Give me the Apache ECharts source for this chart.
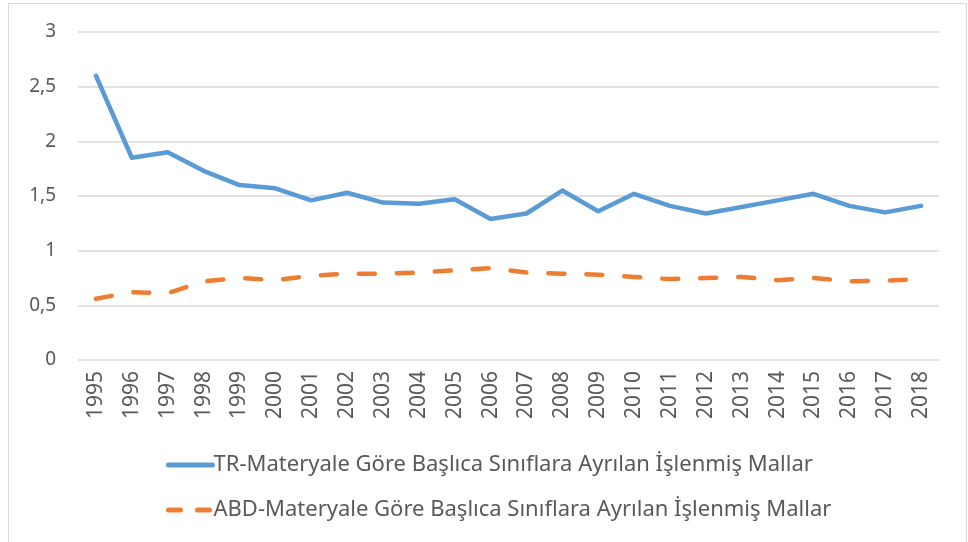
<!DOCTYPE html>
<html>
<head>
<meta charset="utf-8">
<script src="https://cdn.jsdelivr.net/npm/echarts@6/dist/echarts.min.js"></script>
<style>
  html, body { margin: 0; padding: 0; background: #fff; }
  #chart { width: 968px; height: 542px; }
</style>
</head>
<body>
<div id="chart"></div>
<script>
const years = ['1995', '1996', '1997', '1998', '1999', '2000', '2001', '2002', '2003', '2004', '2005', '2006',
  '2007', '2008', '2009', '2010', '2011', '2012', '2013', '2014', '2015', '2016', '2017', '2018']
const trValues = [2.6, 1.85, 1.9, 1.73, 1.6, 1.57, 1.46, 1.53, 1.44, 1.43, 1.47, 1.29,
  1.34, 1.55, 1.36, 1.52, 1.41, 1.34, 1.40, 1.46, 1.52, 1.41, 1.35, 1.41]
const abdValues = [0.56, 0.62, 0.61, 0.72, 0.75, 0.73, 0.77, 0.79, 0.79, 0.8, 0.82, 0.84,
  0.8, 0.79, 0.78, 0.76, 0.74, 0.75, 0.76, 0.73, 0.75, 0.72, 0.725, 0.74]
const trName = 'TR-Materyale Göre Başlıca Sınıflara Ayrılan İşlenmiş Mallar'
const abdName = 'ABD-Materyale Göre Başlıca Sınıflara Ayrılan İşlenmiş Mallar'

const font = 'Noto Sans'
const textColor = '#595959'

const chart = echarts.init(document.getElementById('chart'))
chart.setOption({
  backgroundColor: '#fff',
  animation: false,
  graphic: [{
    type: 'rect',
    shape: { x: 8.5, y: 3.5, width: 958, height: 560 },
    style: { fill: 'none', stroke: '#d9d9d9', lineWidth: 1 }
  }],
  grid: {
    left: 78,
    right: 29,
    top: 32,
    bottom: 182
  },
  legend: {
    orient: 'vertical',
    left: 161,
    top: 449,
    itemWidth: 44,
    itemHeight: 5,
    itemGap: 23,
    itemStyle: { opacity: 0 },
    lineStyle: { width: 5, cap: 'round' },
    textStyle: {
      fontFamily: font,
      fontSize: 22,
      color: textColor,
      padding: [0, 0, 0, -4]
    },
    data: [
      { name: trName },
      { name: abdName, lineStyle: { type: [12, 17], width: 5, cap: 'round' } }
    ]
  },
  xAxis: {
    type: 'category',
    boundaryGap: true,
    data: years,
    axisLine: { show: false },
    axisTick: { show: false },
    axisLabel: {
      rotate: 90,
      interval: 0,
      margin: 11,
      fontFamily: font,
      fontSize: 21,
      color: textColor
    }
  },
  yAxis: {
    type: 'value',
    min: 0,
    max: 3,
    interval: 0.5,
    axisLine: { show: false },
    axisTick: { show: false },
    axisLabel: {
      margin: 22,
      fontFamily: font,
      fontSize: 19,
      color: textColor,
      formatter: v => String(v).replace('.', ',')
    },
    splitLine: {
      lineStyle: { color: '#d9d9d9', width: 1.5 }
    }
  },
  series: [
    {
      name: trName,
      type: 'line',
      symbol: 'none',
      data: trValues,
      lineStyle: { color: '#5b9bd5', width: 4.5, cap: 'round', join: 'round' },
      itemStyle: { color: '#5b9bd5' }
    },
    {
      name: abdName,
      type: 'line',
      symbol: 'none',
      data: abdValues,
      lineStyle: { color: '#ed7d31', width: 4.5, type: [16, 22], cap: 'round', join: 'round' },
      itemStyle: { color: '#ed7d31' }
    }
  ]
})
</script>
</body>
</html>
